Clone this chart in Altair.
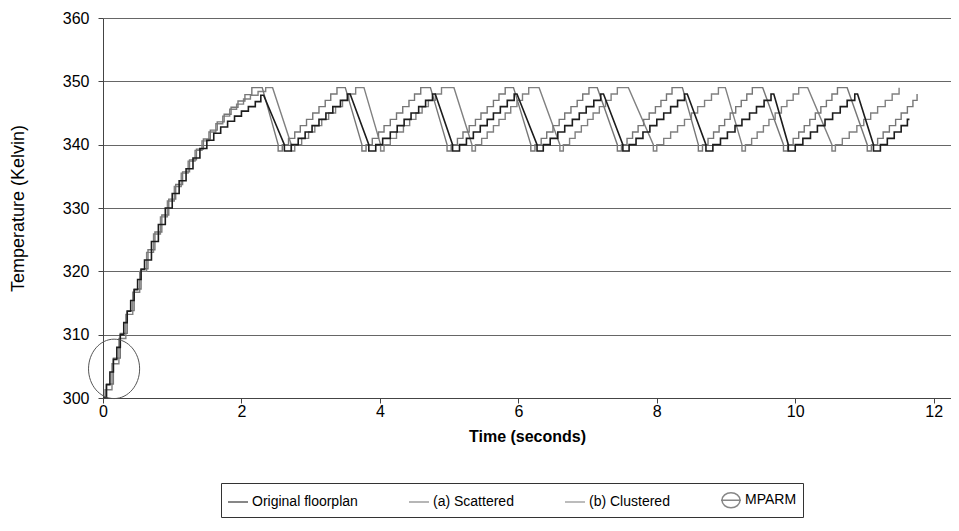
import altair as alt
import pandas as pd

# ---- data: (time s, temperature K) samples ----
# a rise to a higher value is held then stepped; a fall is drawn as a straight line
orig_samples = [
    (0, 300), (0.05, 302.1), (0.1, 304.1), (0.15, 306.1), (0.2, 308), (0.25, 310), (0.3, 311.9),
    (0.35, 313.7), (0.4, 315.4), (0.45, 317.1), (0.5, 318.7), (0.55, 320.3), (0.6, 321.8),
    (0.7, 324.7), (0.8, 327.4), (0.9, 330), (1.0, 332.3), (1.1, 334.3), (1.2, 336.2), (1.3, 337.9),
    (1.4, 339.4), (1.5, 340.7), (1.6, 341.8), (1.7, 342.8), (1.8, 343.7), (1.9, 344.5), (2.0, 345.3),
    (2.1, 346.0), (2.2, 346.8), (2.28, 347.8), (2.32, 347.8),
    (2.62, 340), (2.62, 339), (2.72, 340),
    (2.82, 341), (2.92, 342), (3.02, 343), (3.12, 344), (3.22, 345), (3.32, 346), (3.43, 347), (3.53, 348), (3.57, 348),
    (3.84, 340), (3.84, 339), (3.94, 340),
    (4.04, 341), (4.15, 342), (4.25, 343), (4.35, 344), (4.45, 345), (4.56, 346), (4.66, 347), (4.76, 348), (4.80, 348),
    (5.05, 340), (5.05, 339), (5.15, 340),
    (5.25, 341), (5.35, 342), (5.45, 343), (5.55, 344), (5.64, 345), (5.74, 346), (5.84, 347), (5.94, 348), (5.98, 348),
    (6.27, 340), (6.27, 339), (6.36, 340),
    (6.46, 341), (6.57, 342), (6.67, 343), (6.78, 344), (6.88, 345), (6.98, 346), (7.09, 347), (7.19, 348), (7.23, 348),
    (7.51, 340), (7.51, 339), (7.60, 340),
    (7.70, 341), (7.80, 342), (7.90, 343), (8.00, 344), (8.10, 345), (8.20, 346), (8.30, 347), (8.40, 348), (8.44, 348),
    (8.71, 340), (8.71, 339), (8.81, 340),
    (8.92, 341), (9.02, 342), (9.13, 343), (9.23, 344), (9.34, 345), (9.44, 346), (9.55, 347), (9.65, 348), (9.69, 348),
    (9.90, 340), (9.90, 339), (10.00, 340),
    (10.11, 341), (10.22, 342), (10.32, 343), (10.43, 344), (10.54, 345), (10.65, 346), (10.75, 347), (10.86, 348), (10.90, 348),
    (11.13, 340), (11.13, 339), (11.23, 340),
    (11.33, 341), (11.43, 342), (11.53, 343), (11.62, 344), (11.65, 344),
]

scat_samples = [
    (0, 300), (0.05, 302.2), (0.15, 306.3), (0.25, 310.2), (0.35, 313.8), (0.45, 317.2), (0.55, 320.4),
    (0.65, 323.4), (0.75, 326.2), (0.85, 328.9), (0.95, 331.4), (1.05, 333.7), (1.15, 335.7), (1.25, 337.6),
    (1.35, 339.3), (1.45, 340.9), (1.55, 342.3), (1.65, 343.6), (1.75, 344.8), (1.85, 345.9), (1.95, 346.9),
    (2.05, 347.9), (2.15, 349), (2.30, 349),
    (2.53, 340), (2.53, 339), (2.59, 340),
    (2.68, 341), (2.77, 342), (2.85, 343), (2.94, 344), (3.03, 345), (3.12, 346), (3.21, 347), (3.29, 348), (3.38, 349), (3.50, 349),
    (3.74, 340), (3.74, 339), (3.80, 340),
    (3.89, 341), (3.98, 342), (4.06, 343), (4.15, 344), (4.24, 345), (4.33, 346), (4.42, 347), (4.50, 348), (4.59, 349), (4.73, 349),
    (4.97, 340), (4.97, 339), (5.03, 340),
    (5.12, 341), (5.20, 342), (5.29, 343), (5.38, 344), (5.46, 345), (5.55, 346), (5.64, 347), (5.72, 348), (5.81, 349), (5.93, 349),
    (6.18, 340), (6.18, 339), (6.24, 340),
    (6.33, 341), (6.41, 342), (6.50, 343), (6.59, 344), (6.67, 345), (6.76, 346), (6.85, 347), (6.93, 348), (7.02, 349), (7.14, 349),
    (7.43, 340), (7.43, 339), (7.49, 340),
    (7.57, 341), (7.65, 342), (7.73, 343), (7.81, 344), (7.89, 345), (7.98, 346), (8.06, 347), (8.14, 348), (8.22, 349), (8.37, 349),
    (8.60, 340), (8.60, 339), (8.66, 340),
    (8.74, 341), (8.82, 342), (8.90, 343), (8.98, 344), (9.06, 345), (9.14, 346), (9.22, 347), (9.30, 348), (9.38, 349), (9.53, 349),
    (9.83, 340), (9.83, 339), (9.89, 340),
    (9.97, 341), (10.05, 342), (10.13, 343), (10.21, 344), (10.29, 345), (10.37, 346), (10.45, 347), (10.53, 348), (10.61, 349), (10.75, 349),
    (11.04, 340), (11.04, 339), (11.10, 340),
    (11.19, 341), (11.27, 342), (11.36, 343), (11.45, 344), (11.53, 345), (11.62, 346), (11.70, 347), (11.76, 348),
]

clus_samples = [
    (0, 300), (0.03, 301.3), (0.13, 305.4), (0.23, 309.4), (0.33, 313.2), (0.43, 316.7), (0.53, 320),
    (0.63, 323), (0.73, 325.9), (0.83, 328.6), (0.93, 331.1), (1.03, 333.4), (1.13, 335.5), (1.23, 337.4),
    (1.33, 339.1), (1.43, 340.6), (1.53, 342.0), (1.63, 343.3), (1.73, 344.5), (1.83, 345.6), (1.93, 346.4),
    (2.03, 347.2), (2.13, 347.8), (2.24, 348.4), (2.35, 349), (2.45, 349),
    (2.72, 340), (2.72, 339), (2.77, 340),
    (2.87, 341), (2.97, 342), (3.06, 343), (3.16, 344), (3.26, 345), (3.36, 346), (3.46, 347), (3.55, 348), (3.65, 349), (3.77, 349),
    (4.01, 340), (4.01, 339), (4.06, 340),
    (4.15, 341), (4.24, 342), (4.34, 343), (4.43, 344), (4.52, 345), (4.61, 346), (4.70, 347), (4.80, 348), (4.89, 349), (5.07, 349),
    (5.33, 340), (5.33, 339), (5.38, 340),
    (5.47, 341), (5.55, 342), (5.64, 343), (5.72, 344), (5.81, 345), (5.89, 346), (5.98, 347), (6.06, 348), (6.15, 349), (6.30, 349),
    (6.60, 340), (6.60, 339), (6.65, 340),
    (6.74, 341), (6.82, 342), (6.91, 343), (7.00, 344), (7.08, 345), (7.17, 346), (7.26, 347), (7.34, 348), (7.43, 349), (7.59, 349),
    (7.95, 340), (7.95, 339), (8.00, 340),
    (8.10, 341), (8.20, 342), (8.30, 343), (8.40, 344), (8.50, 345), (8.59, 346), (8.69, 347), (8.79, 348), (8.89, 349), (8.99, 349),
    (9.23, 340), (9.23, 339), (9.28, 340),
    (9.37, 341), (9.45, 342), (9.54, 343), (9.62, 344), (9.71, 345), (9.80, 346), (9.88, 347), (9.97, 348), (10.05, 349), (10.18, 349),
    (10.53, 340), (10.53, 339), (10.58, 340),
    (10.68, 341), (10.78, 342), (10.89, 343), (10.99, 344), (11.09, 345), (11.19, 346), (11.30, 347), (11.40, 348), (11.50, 349),
]

mparm_t = [0.16]
mparm_k = [304.6]

series_names = ["Original floorplan", "(a) Scattered", "(b) Clustered", "MPARM"]
series_colors = ["#1c1c1c", "#767676", "#808080", "#555555"]
x_ticks = [0, 2, 4, 6, 8, 10, 12]
y_ticks = [300, 310, 320, 330, 340, 350, 360]


def to_rows(samples, name):
    pts = [samples[0]]
    for (t1, k1) in samples[1:]:
        k0 = pts[-1][1]
        if k1 > k0:
            pts.append((t1, k0))
        pts.append((t1, k1))
    return pd.DataFrame({"t": [p[0] for p in pts], "K": [p[1] for p in pts],
                         "i": list(range(len(pts))), "series": name})


FONT = "Liberation Sans"
xscale = alt.Scale(domain=[0, 12.25], nice=False, zero=False)
yscale = alt.Scale(domain=[300, 360], nice=False, zero=False)

xaxis = alt.Axis(values=x_ticks, grid=False, title="Time (seconds)", titleFontWeight="bold",
                 titleFontSize=16, titleFont=FONT, titleColor="#000", titlePadding=9,
                 labelFont=FONT, labelFontSize=16, labelColor="#000", labelPadding=0,
                 domainColor="#444", tickColor="#444", tickSize=5, labelFlush=False)
yaxis = alt.Axis(values=y_ticks, grid=True, gridColor="#666", title="Temperature (Kelvin)",
                 titleFontWeight="normal", titleFontSize=18, titleFont=FONT, titleColor="#000",
                 titlePadding=35, labelFont=FONT, labelFontSize=16, labelColor="#000",
                 labelPadding=9, domainColor="#444", tickColor="#444", tickSize=5)

X = lambda: alt.X("t:Q", scale=xscale, axis=xaxis)
Y = lambda: alt.Y("K:Q", scale=yscale, axis=yaxis)


def line_layer(samples, name, color, width):
    df = to_rows(samples, name)
    return alt.Chart(df).mark_line(color=color, strokeWidth=width, strokeJoin="miter", clip=True).encode(
        x=X(), y=Y(), order="i:Q",
    )


l_clus = line_layer(clus_samples, series_names[2], series_colors[2], 1.4)
l_scat = line_layer(scat_samples, series_names[1], series_colors[1], 1.4)
l_orig = line_layer(orig_samples, series_names[0], series_colors[0], 1.6)

ellipse_path = "M -0.86 0 A 0.86 1 0 1 0 0.86 0 A 0.86 1 0 1 0 -0.86 0 Z"
mparm = alt.Chart(pd.DataFrame({"t": mparm_t, "K": mparm_k})).mark_point(
    shape=ellipse_path, size=3530, filled=False, stroke="#555", strokeWidth=1, opacity=1
).encode(x=X(), y=Y())

legend_ellipse = "M -1 0 L 1 0 M -0.9 0 A 0.9 0.75 0 1 0 0.9 0 A 0.9 0.75 0 1 0 -0.9 0 Z"
leg = alt.Legend(title=None, orient="none", legendX=118, legendY=465, direction="horizontal",
                 strokeColor="#333", padding=6, columnPadding=48, labelFont=FONT, labelFontSize=14,
                 labelColor="#000", symbolSize=400, symbolStrokeWidth=1.5, labelOffset=3,
                 symbolType="stroke")
# legend only: a point held outside the x domain and clipped away
legend_layer = alt.Chart(pd.DataFrame({"t": [-1.0], "K": [304.6], "series": ["MPARM"]})).mark_point(
    filled=False, clip=True
).encode(
    x=X(),
    y=Y(),
    color=alt.Color("series:N", scale=alt.Scale(domain=series_names, range=series_colors), legend=leg),
    shape=alt.Shape("series:N", scale=alt.Scale(domain=series_names,
                                                range=["stroke", "stroke", "stroke", legend_ellipse]),
                    legend=leg),
)

chart = alt.layer(l_clus, l_scat, l_orig, mparm, legend_layer).properties(
    width=848, height=380,
    autosize=alt.AutoSizeParams(type="none"),
    padding={"left": 95, "top": 10, "right": 0, "bottom": 125},
).configure_view(stroke=None)

chart.save("out.html", embed_options={"renderer": "svg", "actions": False})
